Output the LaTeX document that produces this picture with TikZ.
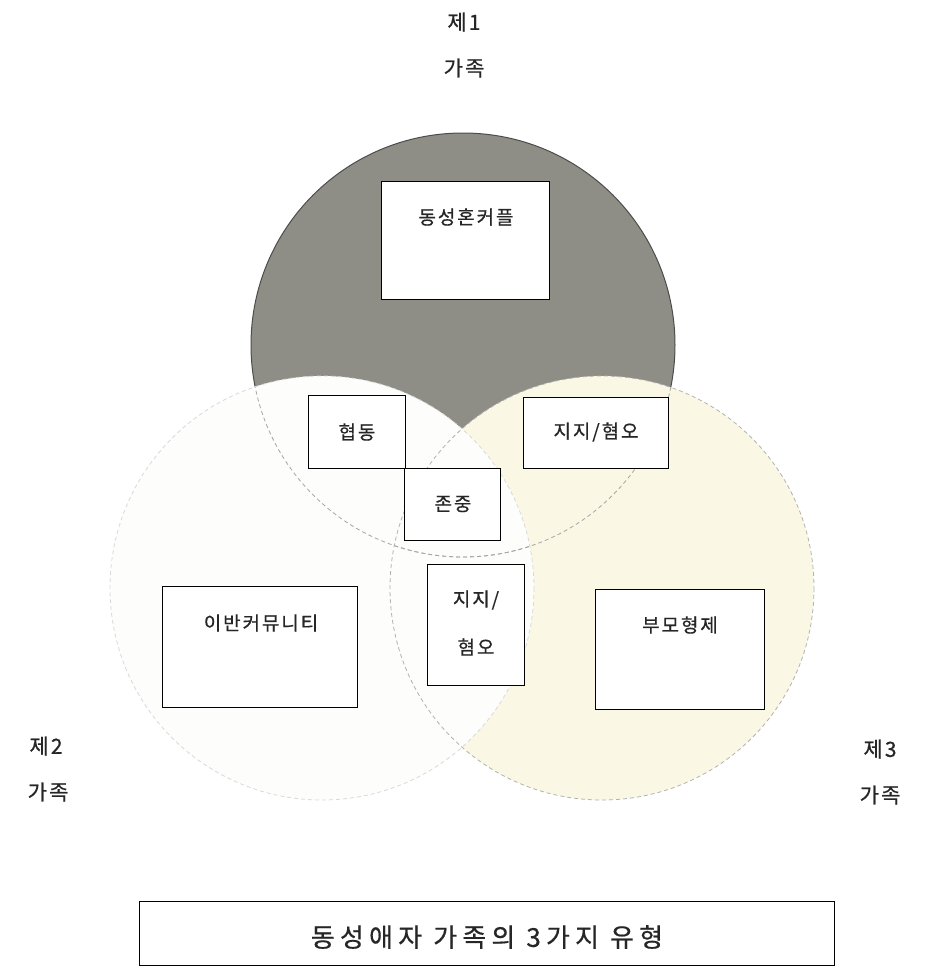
\documentclass[tikz,border=0pt]{standalone}
\usepackage{fontspec}
\newfontfamily\kr[FakeBold=0.6,LetterSpace=10]{Noto Sans CJK KR}
\newfontfamily\krt[FakeBold=0.6,LetterSpace=20]{Noto Sans CJK KR}
\definecolor{cgray}{RGB}{142,142,134}
\definecolor{cyellow}{RGB}{250,248,228}
\definecolor{cwhite}{RGB}{253,253,252}
\begin{document}
\begin{tikzpicture}[x=1pt,y=-1pt,
  box/.style={draw=black, line width=1.3pt, fill=white, inner sep=0pt, anchor=north west},
  txt/.style={font=\kr\fontsize{19}{19}\selectfont, text=black!85, inner sep=0pt},
  lbl/.style={font=\kr\fontsize{21}{21}\selectfont, text=black!85, inner sep=0pt},
  ttl/.style={font=\krt\fontsize{26}{26}\selectfont, text=black!85, inner sep=0pt},
  dline/.style={dash pattern=on 4pt off 3pt, line width=0.8pt}]
\useasboundingbox (0,0) rectangle (927,970);
% circles
\fill[cgray] (463,345) circle (212);
\draw[black!70, line width=1pt] (463,345) circle (212);
\fill[cyellow] (602,588) circle (212);
\fill[cwhite] (322,588) circle (212);
\begin{scope}
  \clip (322,588) circle (212);
  \draw[dline, gray!70] (463,345) circle (212);
\end{scope}
\begin{scope}
  \clip (602,588) circle (212);
  \draw[dline, gray!70] (463,345) circle (212);
\end{scope}
\draw[dline, gray!30] (322,588) circle (212);
\draw[dline, gray!60] (602,588) circle (212);
% boxes
\node[box, minimum width=168, minimum height=118] (b1) at (381,181) {};
\node[txt] (t1) at (466,217) {동성혼커플};
\node[box, minimum width=97, minimum height=73] (b2) at (308,395) {};
\node[txt] (t2) at (357,432) {협동};
\node[box, minimum width=96, minimum height=72] (b3) at (404,468) {};
\node[txt] (t3) at (453,504) {존중};
\node[box, minimum width=145, minimum height=71] (b4) at (523,397) {};
\node[txt] (t4) at (596,432) {지지/혐오};
\node[box, minimum width=97, minimum height=121] (b5) at (427,564) {};
\node[txt] (t5a) at (476,600) {지지/};
\node[txt] (t5b) at (476,647) {혐오};
\node[box, minimum width=195, minimum height=121] (b6) at (162,586) {};
\node[txt] (t6) at (261,623) {이반커뮤니티};
\node[box, minimum width=169, minimum height=120] (b7) at (595,589) {};
\node[txt] (t7) at (680,625) {부모형제};
\node[box, line width=1.2pt, minimum width=695, minimum height=64] (b8) at (139,901) {};
\node[ttl] (t8) at (487,937) {동성애자 가족의 3가지 유형};
% family labels
\node[lbl] (f1a) at (464,22) {제1};
\node[lbl] (f1b) at (464,68) {가족};
\node[lbl] (f2a) at (46,746) {제2};
\node[lbl] (f2b) at (48,792) {가족};
\node[lbl] (f3a) at (880,749) {제3};
\node[lbl] (f3b) at (880,795) {가족};
\end{tikzpicture}
\end{document}
